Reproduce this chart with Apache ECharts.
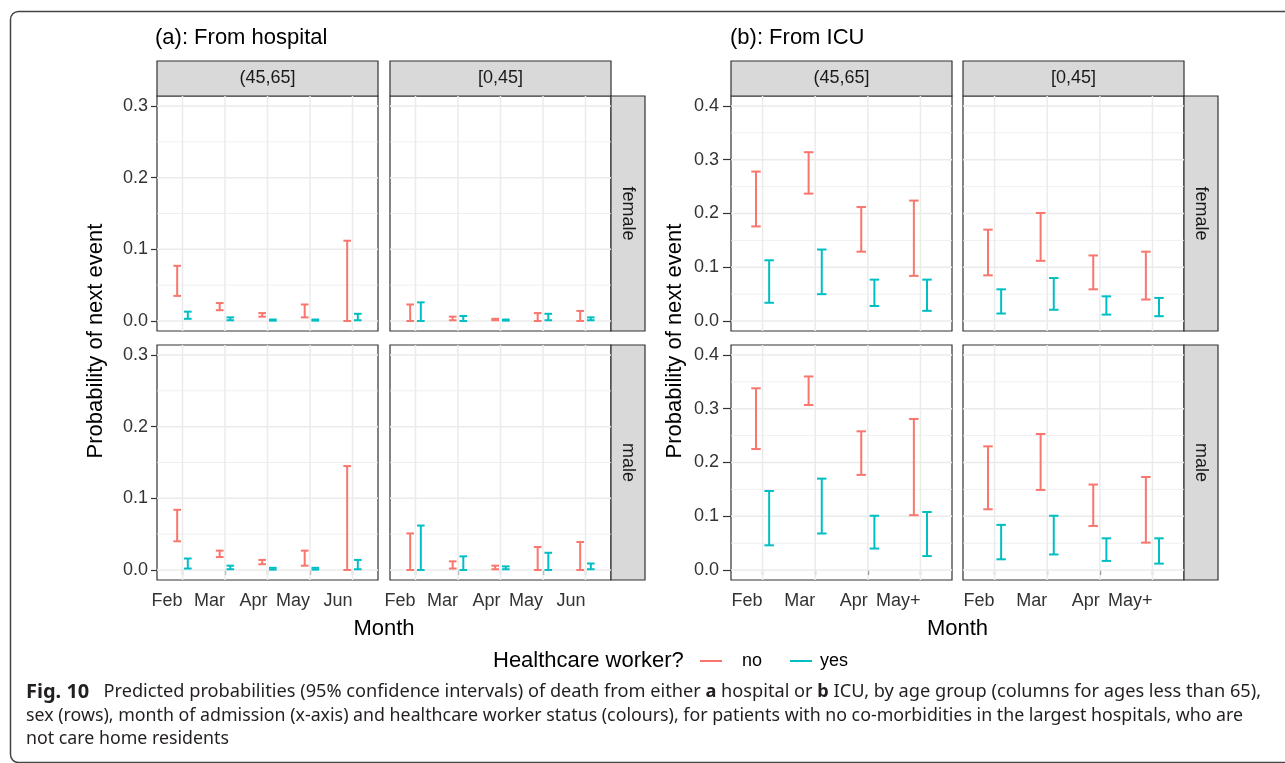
<!DOCTYPE html>
<html>
<head>
<meta charset="utf-8">
<title>Predicted probabilities of death</title>
<script src="https://cdn.jsdelivr.net/npm/echarts@6/dist/echarts.min.js"></script>
<style>
  html, body { margin: 0; padding: 0; background: #fff; }
  #chart { width: 1285px; height: 763px; }
</style>
</head>
<body>
<div id="chart"></div>
<script>
// ---- categories ----
const hospitalMonths = ['Feb', 'Mar', 'Apr', 'May', 'Jun'];
const icuMonths = ['Feb', 'Mar', 'Apr', 'May+'];
const ageGroups = ['(45,65]', '[0,45]'];
const sexes = ['female', 'male'];
const workerStatus = ['no', 'yes'];

// ---- tick labels ----
const hospitalYTicks = [0, 0.1, 0.2, 0.3];
const icuYTicks = [0, 0.1, 0.2, 0.3, 0.4];

// ---- 95% CI bounds [low, high], one pair per month ----
// From hospital
const hospFemale4565No  = [[0.035, 0.077], [0.015, 0.025], [0.006, 0.011], [0.005, 0.023], [0.000, 0.112]];
const hospFemale4565Yes = [[0.003, 0.013], [0.001, 0.005], [0.0005, 0.002], [0.0005, 0.002], [0.001, 0.010]];
const hospFemale045No   = [[0.000, 0.023], [0.001, 0.006], [0.001, 0.003], [0.000, 0.011], [0.000, 0.014]];
const hospFemale045Yes  = [[0.000, 0.026], [0.000, 0.007], [0.0005, 0.002], [0.001, 0.010], [0.001, 0.005]];
const hospMale4565No    = [[0.040, 0.084], [0.018, 0.027], [0.008, 0.014], [0.006, 0.027], [0.000, 0.145]];
const hospMale4565Yes   = [[0.002, 0.016], [0.001, 0.006], [0.0005, 0.003], [0.0005, 0.003], [0.001, 0.014]];
const hospMale045No     = [[0.000, 0.051], [0.002, 0.012], [0.001, 0.006], [0.000, 0.032], [0.000, 0.039]];
const hospMale045Yes    = [[0.000, 0.062], [0.000, 0.019], [0.001, 0.005], [0.000, 0.024], [0.001, 0.009]];
// From ICU
const icuFemale4565No  = [[0.176, 0.278], [0.237, 0.314], [0.129, 0.212], [0.084, 0.224]];
const icuFemale4565Yes = [[0.034, 0.113], [0.050, 0.133], [0.028, 0.077], [0.019, 0.077]];
const icuFemale045No   = [[0.085, 0.170], [0.112, 0.201], [0.059, 0.122], [0.040, 0.129]];
const icuFemale045Yes  = [[0.014, 0.059], [0.021, 0.080], [0.012, 0.046], [0.009, 0.043]];
const icuMale4565No    = [[0.225, 0.338], [0.307, 0.360], [0.177, 0.258], [0.102, 0.281]];
const icuMale4565Yes   = [[0.046, 0.147], [0.068, 0.170], [0.040, 0.101], [0.026, 0.108]];
const icuMale045No     = [[0.113, 0.230], [0.149, 0.253], [0.082, 0.159], [0.051, 0.173]];
const icuMale045Yes    = [[0.020, 0.084], [0.029, 0.101], [0.017, 0.059], [0.012, 0.059]];

// ---- styling / layout ----
const FONT = 'Liberation Sans, Arial, Helvetica, sans-serif';
const CAPTION_FONT = 'Noto Sans, Open Sans, sans-serif';
const COLORS = { no: '#F8766D', yes: '#00BFC4' };
const DODGE = 0.125;       // half of dodge width, in category units
const WHISKER = 0.18;      // whisker width, in category units
const PANEL_W = 221;
const PANEL_H = 235;
const ROW_TOPS = [96, 345];
const STRIP_TOP = 61;
const STRIP_W = 34;

const blocks = [
  {
    title: '(a): From hospital', titleX: 155,
    months: hospitalMonths, yTicks: hospitalYTicks,
    yMin: -0.014, yMax: 0.314,
    minor: [0.05, 0.15, 0.25],
    lefts: [157, 390],
    yTickLen: 6, yLabelMargin: 9,
    yTitleX: 96,
    cells: [
      [[hospFemale4565No, hospFemale4565Yes], [hospFemale045No, hospFemale045Yes]],
      [[hospMale4565No, hospMale4565Yes], [hospMale045No, hospMale045Yes]]
    ]
  },
  {
    title: '(b): From ICU', titleX: 730,
    months: icuMonths, yTicks: icuYTicks,
    yMin: -0.0185, yMax: 0.4185,
    minor: [0.05, 0.15, 0.25, 0.35],
    lefts: [731, 963],
    yTickLen: 8, yLabelMargin: 12,
    yTitleX: 675,
    cells: [
      [[icuFemale4565No, icuFemale4565Yes], [icuFemale045No, icuFemale045Yes]],
      [[icuMale4565No, icuMale4565Yes], [icuMale045No, icuMale045Yes]]
    ]
  }
];

const grids = [], xAxes = [], yAxes = [], series = [], graphics = [];

function gridLineRenderer(xMin, xMax, yMin, yMax) {
  return function (params, api) {
    const kind = api.value(0);   // 0 = horizontal, 1 = vertical
    const v = api.value(1);
    const major = api.value(2);
    const p1 = kind === 0 ? api.coord([xMin, v]) : api.coord([v, yMin]);
    const p2 = kind === 0 ? api.coord([xMax, v]) : api.coord([v, yMax]);
    return {
      type: 'line', silent: true,
      shape: { x1: p1[0], y1: p1[1], x2: p2[0], y2: p2[1] },
      style: { stroke: '#ebebeb', lineWidth: major ? 1.5 : 0.8 }
    };
  };
}

function errorBarRenderer(offset, color) {
  return function (params, api) {
    const x = api.value(0) + offset;
    const lo = api.coord([x, api.value(1)]);
    const hi = api.coord([x, api.value(2)]);
    const hw = api.size([WHISKER, 0])[0] / 2;
    const style = { stroke: color, lineWidth: 2, lineCap: 'butt' };
    return {
      type: 'group',
      children: [
        { type: 'line', shape: { x1: lo[0], y1: lo[1], x2: hi[0], y2: hi[1] }, style },
        { type: 'line', shape: { x1: lo[0] - hw, y1: lo[1], x2: lo[0] + hw, y2: lo[1] }, style },
        { type: 'line', shape: { x1: hi[0] - hw, y1: hi[1], x2: hi[0] + hw, y2: hi[1] }, style }
      ]
    };
  };
}

blocks.forEach((b) => {
  const n = b.months.length;
  const xMin = 0.4, xMax = n + 0.6;
  const xVals = b.months.map((m, i) => i + 1);

  // block title
  graphics.push({
    type: 'text', x: b.titleX, y: 38,
    style: { text: b.title, font: '22px ' + FONT, fill: '#000', verticalAlign: 'middle' }
  });

  for (let r = 0; r < 2; r++) {
    for (let c = 0; c < 2; c++) {
      const gi = grids.length;
      const left = b.lefts[c], top = ROW_TOPS[r];
      grids.push({
        left: left, top: top, width: PANEL_W, height: PANEL_H,
        show: true, backgroundColor: '#fff', borderColor: '#333', borderWidth: 1.2
      });
      xAxes.push({
        gridIndex: gi, type: 'value', min: xMin, max: xMax,
        axisLine: { show: false },
        splitLine: { show: false },
        axisTick: { show: r === 1, customValues: xVals, length: 5, lineStyle: { color: '#333', width: 1.2 } },
        axisLabel: {
          show: r === 1, customValues: xVals, margin: 12, align: 'right',
          formatter: v => b.months[Math.round(v) - 1],
          color: '#333', fontSize: 18, fontFamily: FONT
        }
      });
      yAxes.push({
        gridIndex: gi, type: 'value', min: b.yMin, max: b.yMax,
        axisLine: { show: false },
        splitLine: { show: false },
        axisTick: { show: c === 0, customValues: b.yTicks, length: b.yTickLen, lineStyle: { color: '#333', width: 1.2 } },
        axisLabel: {
          show: c === 0, customValues: b.yTicks, margin: b.yLabelMargin,
          formatter: v => v.toFixed(1),
          color: '#333', fontSize: 18, fontFamily: FONT
        }
      });

      // panel grid lines
      const lines = [];
      b.yTicks.forEach(v => lines.push([0, v, 1]));
      b.minor.forEach(v => lines.push([0, v, 0]));
      xVals.forEach(v => lines.push([1, v, 1]));
      series.push({
        type: 'custom', xAxisIndex: gi, yAxisIndex: gi, z: 1, silent: true,
        renderItem: gridLineRenderer(xMin, xMax, b.yMin, b.yMax),
        data: lines
      });

      // error bars for each healthcare-worker status
      workerStatus.forEach((status, si) => {
        const values = b.cells[r][c][si];
        series.push({
          type: 'custom', name: status, xAxisIndex: gi, yAxisIndex: gi, z: 3,
          renderItem: errorBarRenderer(si === 0 ? -DODGE : DODGE, COLORS[status]),
          encode: { x: 0, y: [1, 2] },
          data: values.map((ci, i) => [i + 1, ci[0], ci[1]])
        });
      });

      // column strip (age group)
      if (r === 0) {
        graphics.push({
          type: 'rect', shape: { x: left, y: STRIP_TOP, width: PANEL_W, height: ROW_TOPS[0] - STRIP_TOP },
          style: { fill: '#d9d9d9', stroke: '#333', lineWidth: 1.2 }
        });
        graphics.push({
          type: 'text', x: left + PANEL_W / 2, y: (STRIP_TOP + ROW_TOPS[0]) / 2,
          style: { text: ageGroups[c], font: '18px ' + FONT, fill: '#1a1a1a', align: 'center', verticalAlign: 'middle' }
        });
      }
      // row strip (sex)
      if (c === 1) {
        const sx = left + PANEL_W;
        graphics.push({
          type: 'rect', shape: { x: sx, y: top, width: STRIP_W, height: PANEL_H },
          style: { fill: '#d9d9d9', stroke: '#333', lineWidth: 1.2 }
        });
        graphics.push({
          type: 'text', x: sx + STRIP_W / 2, y: top + PANEL_H / 2, rotation: -Math.PI / 2,
          style: { text: sexes[r], font: '18px ' + FONT, fill: '#1a1a1a', align: 'center', verticalAlign: 'middle' }
        });
      }
    }
  }

  // axis titles
  const xCenter = (b.lefts[0] + b.lefts[1] + PANEL_W) / 2;
  graphics.push({
    type: 'text', x: xCenter, y: 629,
    style: { text: 'Month', font: '22px ' + FONT, fill: '#000', align: 'center', verticalAlign: 'middle' }
  });
  graphics.push({
    type: 'text', x: b.yTitleX, y: 341,
    rotation: Math.PI / 2,
    style: { text: 'Probability of next event', font: '22px ' + FONT, fill: '#000', align: 'center', verticalAlign: 'middle' }
  });
});

// legend
graphics.push({
  type: 'text', x: 493, y: 661,
  style: { text: 'Healthcare worker?', font: '22px ' + FONT, fill: '#000', verticalAlign: 'middle' }
});
[['no', 700, 742], ['yes', 790, 820]].forEach(([status, lx, tx]) => {
  graphics.push({
    type: 'line', shape: { x1: lx, y1: 661, x2: lx + 22, y2: 661 },
    style: { stroke: COLORS[status], lineWidth: 2 }
  });
  graphics.push({
    type: 'text', x: tx, y: 661,
    style: { text: status, font: '18px ' + FONT, fill: '#000', verticalAlign: 'middle' }
  });
});

// caption
const captionLines = [
  '{f|Fig. 10}   Predicted probabilities (95% confidence intervals) of death from either {b|a} hospital or {b|b} ICU, by age group (columns for ages less than 65),',
  'sex (rows), month of admission (x-axis) and healthcare worker status (colours), for patients with no co-morbidities in the largest hospitals, who are',
  'not care home residents'
];
const captionSizes = [18.2, 17.8, 17.8];
captionLines.forEach((line, i) => {
  const size = captionSizes[i];
  graphics.push({
    type: 'text', x: 26, y: 692 + i * 23.5,
    style: {
      text: line, fontFamily: CAPTION_FONT, fontSize: size, fill: '#231f20', verticalAlign: 'middle',
      rich: {
        f: { fontFamily: CAPTION_FONT, fontSize: 20, fontWeight: 'bold', fill: '#231f20' },
        b: { fontFamily: CAPTION_FONT, fontSize: size, fontWeight: 'bold', fill: '#231f20' }
      }
    }
  });
});

// outer frame
graphics.push({
  type: 'rect', shape: { x: 10.5, y: 11.5, width: 1300, height: 751, r: 8 },
  style: { fill: 'none', stroke: '#444', lineWidth: 1.5 }
});

const chart = echarts.init(document.getElementById('chart'), null, { renderer: 'canvas' });
chart.setOption({
  animation: false,
  backgroundColor: '#fff',
  grid: grids,
  xAxis: xAxes,
  yAxis: yAxes,
  series: series,
  graphic: { elements: graphics }
});
</script>
</body>
</html>
